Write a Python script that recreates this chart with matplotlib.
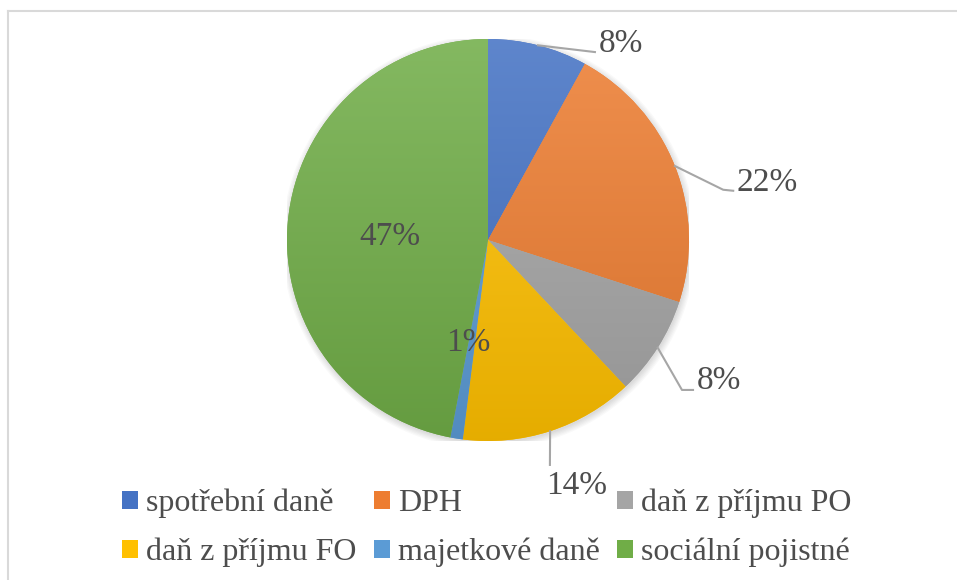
import numpy as np
import matplotlib
matplotlib.use('Agg')
import matplotlib.pyplot as plt
from matplotlib.colors import to_rgb
from matplotlib.lines import Line2D
from matplotlib.patches import Circle

categories = ["spotřební daně", "DPH", "daň z příjmu PO",
              "daň z příjmu FO", "majetkové daně", "sociální pojistné"]
shares = [8, 22, 8, 14, 1, 47]
colors = ["#4472C4", "#ED7D31", "#A5A5A5", "#FFC000", "#5B9BD5", "#70AD47"]

# label placement (axes data units, pie radius = 1)
label_xy = [(0.66, 0.975), (1.39, 0.285), (1.15, -0.70), (0.443, -1.224), (-0.10, -0.51), (-0.49, 0.015)]
# leader line elbows/ends, None = label inside the pie
leaders = [[(0.532, 0.935)],
           [(1.17, 0.25), (1.22, 0.245)],
           [(0.965, -0.746), (1.02, -0.746)],
           [(0.308, -1.119)],
           None, None]

plt.rcParams['font.family'] = ['Liberation Serif', 'DejaVu Serif']
text_color = "#4d4d4d"

W, H = 957, 580
fig = plt.figure(figsize=(W / 100, H / 100), dpi=100)

# chart border (only top and left visible in the crop)
fig.add_artist(Line2D([8 / W, 1], [1 - 11 / H, 1 - 11 / H], color="#d9d9d9", lw=1.5))
fig.add_artist(Line2D([8 / W, 8 / W], [0, 1 - 11 / H], color="#d9d9d9", lw=1.5))

cx, cy, r = 488, 240, 201
ax = fig.add_axes([(cx - r) / W, (H - cy - r) / H, 2 * r / W, 2 * r / H])
ax.axis('off')

# soft shadow round the pie
for k in range(6):
    ax.add_patch(Circle((0.005, -0.01), 1.0 + 0.006 * k, color="black", alpha=0.025, lw=0, zorder=0))

wedges, _ = ax.pie(shares, colors=colors, startangle=90, counterclock=False,
                   radius=1.0, wedgeprops=dict(linewidth=0))
for w in wedges:
    w.set_zorder(1)

# vertical gradient fill, lighter top, darker bottom
yy = np.linspace(0, 1, 256)[:, None]
for w, c in zip(wedges, colors):
    base = np.array(to_rgb(c))
    top = base + (1 - base) * 0.14
    bot = base * 0.90
    grad = top[None, None, :] * (1 - yy[:, :, None]) + bot[None, None, :] * yy[:, :, None]
    img = ax.imshow(grad, extent=(-1, 1, -1, 1), aspect='auto', zorder=2, origin='upper')
    img.set_clip_path(w)
ax.set_xlim(-1, 1)
ax.set_ylim(-1, 1)

# percentage labels with leader lines
start = 90.0
total = float(sum(shares))
for s, (lx, ly), lead in zip(shares, label_xy, leaders):
    mid = np.deg2rad(start - 360 * s / total / 2)
    start -= 360 * s / total
    ax.text(lx, ly, "{}%".format(s), ha='center', va='center', fontsize=24,
            color=text_color, zorder=5, clip_on=False)
    if lead is not None:
        xs = [np.cos(mid)] + [p[0] for p in lead]
        ys = [np.sin(mid)] + [p[1] for p in lead]
        ax.add_line(Line2D(xs, ys, color="#a6a6a6", lw=1.5, zorder=4, clip_on=False))

# legend, row-major order for 3 columns
order = [0, 3, 1, 4, 2, 5]
fig.legend([wedges[i] for i in order], [categories[i] for i in order],
           ncol=3, loc='center', bbox_to_anchor=(487 / W, 1 - 528 / H),
           frameon=False, fontsize=23, labelcolor=text_color,
           handlelength=0.5, handleheight=0.5, handletextpad=0.25,
           columnspacing=0.55, labelspacing=0.62, borderpad=0)

plt.savefig('out.png', dpi=100)
